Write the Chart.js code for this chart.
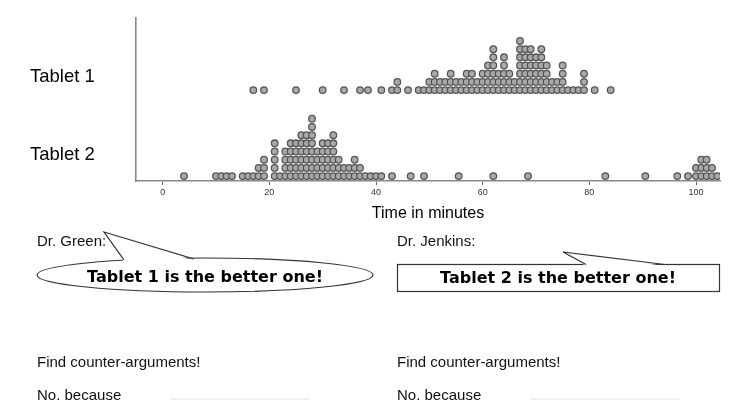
<!DOCTYPE html>
<html>
<head>
<meta charset="utf-8">
<script src="https://cdn.jsdelivr.net/npm/chart.js@4/dist/chart.umd.min.js"></script>
<style>
  html, body { margin:0; padding:0; background:#fff; }
  #wrap { position:relative; width:740px; height:403px; overflow:hidden; background:#fff;
          font-family:"Liberation Sans", Arial, sans-serif; color:#111; }
  #c { position:absolute; left:0; top:0; }
  svg { position:absolute; left:0; top:0; }
  .t { position:absolute; font-size:15px; line-height:18px; white-space:nowrap; }
  .b { position:absolute; font-family:"DejaVu Sans", sans-serif; font-size:16px; line-height:18px;
       font-weight:bold; white-space:nowrap; text-align:center; color:#000; }
</style>
</head>
<body>
<div id="wrap">
  <canvas id="c" width="740" height="226"></canvas>
  <svg width="740" height="403">
    <ellipse cx="205" cy="275" rx="168" ry="17" fill="#fff" stroke="#333" stroke-width="1.2"/>
    <polygon points="124,262 104,232 194,261" fill="#fff" stroke="none"/>
    <polyline points="124,260 104,232 194,259" fill="none" stroke="#333" stroke-width="1.2"/>
    <rect x="397.5" y="264.5" width="322" height="27" fill="#fff" stroke="#333" stroke-width="1.2"/>
    <polygon points="586,266 563,252 665,266" fill="#fff" stroke="none"/>
    <polyline points="586,264.5 563,252 665,264.5" fill="none" stroke="#333" stroke-width="1.2"/>
    <line x1="170" y1="399" x2="310" y2="399" stroke="#e4e4e4" stroke-width="1"/>
    <line x1="530" y1="399" x2="680" y2="399" stroke="#e4e4e4" stroke-width="1"/>
  </svg>
  <div class="t" style="left:37px;top:232px">Dr. Green:</div>
  <div class="t" style="left:397px;top:232px">Dr. Jenkins:</div>
  <div class="b" style="left:37px;width:336px;top:268px">Tablet 1 is the better one!</div>
  <div class="b" style="left:397px;width:322px;top:269px">Tablet 2 is the better one!</div>
  <div class="t" style="left:37px;top:353px">Find counter-arguments!</div>
  <div class="t" style="left:397px;top:353px">Find counter-arguments!</div>
  <div class="t" style="left:37px;top:386px">No. because</div>
  <div class="t" style="left:397px;top:386px">No. because</div>
</div>
<script>
// ---- data ----
const categories = ['Tablet 1', 'Tablet 2'];
const xTickValues = [0, 20, 40, 60, 80, 100];
const xAxisTitle = 'Time in minutes';

// time (minutes) of each dot column and number of stacked dots in it
const tablet1Minutes = [17,19,25,30,34,37,38.5,41,43,44,46,48,49,50,51,52,53,54,55,56,57,58,59,60,61,62,63,64,65,66,67,68,69,70,71,72,73,74,75,76,77,78,79,81,84];
const tablet1Counts  = [1,1,1,1,1,1,1,1,1,2,1,1,1,2,3,2,2,3,2,2,3,3,2,3,4,6,3,5,3,2,7,6,6,5,6,4,2,2,4,1,1,1,3,1,1];
const tablet2Minutes = [4,10,11,12,13,15,16,17,18,19,21,22,23,24,25,26,27,28,29,30,31,32,33,34,35,36,37,38,39,40,41,43,46.5,49,55.5,62,68.5,83,90.5,96.5,98.5,100,101,102,103,104];
const tablet2Counts  = [1,1,1,1,1,1,1,1,2,3,5,1,4,5,5,6,6,8,4,5,5,6,3,2,2,3,2,1,1,1,1,1,1,1,1,1,1,1,1,1,1,2,3,3,2,1];

// ---- layout constants (row baselines in stacking units) ----
const ROW_BASE = { 'Tablet 1': 10.5, 'Tablet 2': 0 };
const ROW_LABEL = { 'Tablet 1': 12.1, 'Tablet 2': 2.6 };

function stack(minutes, counts, base) {
  const pts = [];
  minutes.forEach((m, i) => {
    for (let k = 0; k < counts[i]; k++) pts.push({ x: m, y: base + k });
  });
  return pts;
}

const dotStyle = {
  pointRadius: 3.3,
  pointBorderWidth: 1.3,
  pointBackgroundColor: '#a9a9a9',
  pointBorderColor: '#555',
  showLine: false
};

new Chart(document.getElementById('c'), {
  type: 'scatter',
  data: {
    datasets: [
      Object.assign({ label: categories[0], data: stack(tablet1Minutes, tablet1Counts, ROW_BASE['Tablet 1']) }, dotStyle),
      Object.assign({ label: categories[1], data: stack(tablet2Minutes, tablet2Counts, ROW_BASE['Tablet 2']) }, dotStyle)
    ]
  },
  options: {
    responsive: false,
    animation: false,
    devicePixelRatio: 1,
    layout: { padding: { top: 18, right: 20, left: 30, bottom: 0 } },
    plugins: { legend: { display: false }, tooltip: { enabled: false } },
    scales: {
      x: {
        type: 'linear',
        min: -5, max: 104.5,
        afterBuildTicks: s => { s.ticks = xTickValues.map(v => ({ value: v })); },
        afterFit: s => { s.height = 45; },
        border: { color: '#888', width: 1.6 },
        grid: { drawOnChartArea: false, drawTicks: true, tickLength: 4, color: '#666' },
        ticks: { font: { family: 'Liberation Sans', size: 9 }, color: '#333', padding: 2, maxRotation: 0 },
        title: { display: true, text: xAxisTitle, color: '#000',
                 font: { family: 'Liberation Sans', size: 16 }, padding: { top: 4, bottom: 3 } }
      },
      y: {
        type: 'linear',
        min: -0.6, max: 19.3,
        afterBuildTicks: s => { s.ticks = categories.map(c => ({ value: ROW_LABEL[c] })); },
        afterFit: s => { s.width = 106; },
        border: { color: '#888', width: 1.6 },
        grid: { display: true, drawOnChartArea: false, drawTicks: false },
        ticks: {
          padding: 0,
          crossAlign: 'far',
          color: '#000',
          font: { family: 'Liberation Sans', size: 18.5 },
          callback: v => categories.find(c => Math.abs(ROW_LABEL[c] - v) < 1e-6) || ''
        }
      }
    }
  }
});
</script>
</body>
</html>
